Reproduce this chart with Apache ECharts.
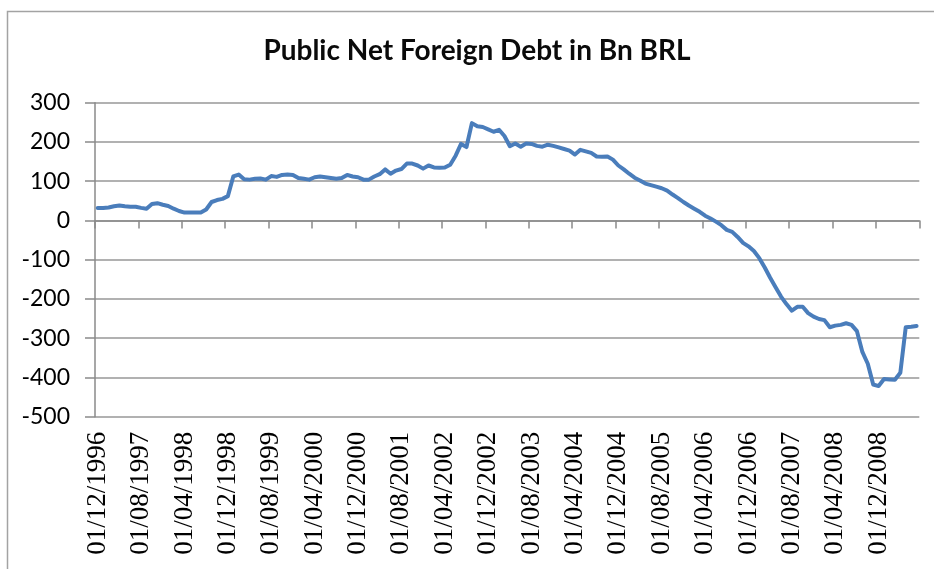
<!DOCTYPE html>
<html>
<head>
<meta charset="utf-8">
<title>Public Net Foreign Debt in Bn BRL</title>
<script src="https://cdn.jsdelivr.net/npm/echarts@6/dist/echarts.min.js"></script>
<style>
  html, body { margin: 0; padding: 0; background: #ffffff; }
  #chart { width: 934px; height: 569px; }
</style>
</head>
<body>
<div id="chart"></div>
<script>
// Monthly series, December 1996 through July 2009 (billions of BRL)
const startYear = 1996;
const startMonth = 12;
const debtValues = [
  32, 32, 33, 36, 38, 36, 35, 35, 32, 30,
  42, 44, 40, 37, 30, 24, 20, 20, 20, 20,
  28, 47, 52, 55, 62, 112, 117, 105, 104, 106,
  107, 104, 113, 111, 116, 117, 116, 108, 106, 104,
  110, 112, 110, 108, 106, 108, 116, 112, 110, 104,
  104, 112, 118, 130, 119, 127, 131, 145, 145, 140,
  132, 140, 135, 134, 135, 142, 165, 195, 187, 248,
  240, 238, 232, 226, 231, 215, 189, 196, 188, 196,
  195, 190, 188, 193, 190, 186, 182, 178, 168, 180,
  176, 172, 163, 162, 163, 155, 140, 130, 119, 109,
  102, 94, 90, 86, 82, 76, 66, 57, 47, 38,
  30, 22, 12, 5, -3, -12, -24, -29, -42, -57,
  -66, -78, -96, -120, -146, -170, -194, -213, -230, -220,
  -220, -236, -245, -251, -254, -272, -268, -266, -262, -266,
  -282, -335, -365, -418, -422, -404, -405, -406, -388, -272,
  -271, -269
];
const yTicks = [300, 200, 100, 0, -100, -200, -300, -400, -500];
const chartTitle = 'Public Net Foreign Debt in Bn BRL';

// Category labels in dd/mm/yyyy form, one per month
const months = [];
for (let k = 0; k < debtValues.length; k++) {
  const m0 = startMonth - 1 + k;
  const y = startYear + Math.floor(m0 / 12);
  const m = (m0 % 12) + 1;
  months.push('01/' + String(m).padStart(2, '0') + '/' + y);
}

const chart = echarts.init(document.getElementById('chart'), null, { renderer: 'canvas' });

const axisGray = '#8a8a8a';

chart.setOption({
  backgroundColor: '#ffffff',
  animation: false,
  graphic: [
    {
      type: 'rect',
      shape: { x: 7.5, y: 11.5, width: 1000, height: 1000 },
      style: { fill: 'none', stroke: '#a3a3a3', lineWidth: 1.5 },
      silent: true
    },
    {
      type: 'text',
      x: 477,
      y: 51,
      style: {
        text: chartTitle,
        fill: '#0a0a0a',
        font: 'bold 28px Lato',
        textAlign: 'center',
        textVerticalAlign: 'middle'
      },
      silent: true
    }
  ],
  grid: { left: 95, right: 14.7, top: 102.7, bottom: 152.3, containLabel: false },
  xAxis: {
    type: 'category',
    data: months,
    boundaryGap: true,
    axisLine: { show: true, lineStyle: { color: axisGray, width: 1.5 } },
    axisTick: { show: true, interval: 7, length: 8, lineStyle: { color: axisGray, width: 1.5 } },
    axisLabel: {
      interval: 7,
      rotate: 90,
      margin: 15,
      color: '#000000',
      fontFamily: 'Liberation Serif',
      fontSize: 27
    },
    splitLine: { show: false }
  },
  yAxis: {
    type: 'value',
    min: -500,
    max: 300,
    interval: 100,
    axisLine: { show: true, lineStyle: { color: axisGray, width: 1.5 } },
    axisTick: { show: true, length: 10, lineStyle: { color: axisGray, width: 1.5 } },
    axisLabel: {
      margin: 25,
      color: '#000000',
      fontFamily: 'Lato',
      fontSize: 23,
      customValues: yTicks
    },
    splitLine: { show: true, lineStyle: { color: '#979797', width: 1.5 } }
  },
  series: [
    {
      type: 'line',
      data: debtValues,
      showSymbol: false,
      symbol: 'none',
      smooth: false,
      lineStyle: { color: '#4a7dbb', width: 4, join: 'round', cap: 'round' },
      itemStyle: { color: '#4a7dbb' }
    }
  ]
});
</script>
</body>
</html>
